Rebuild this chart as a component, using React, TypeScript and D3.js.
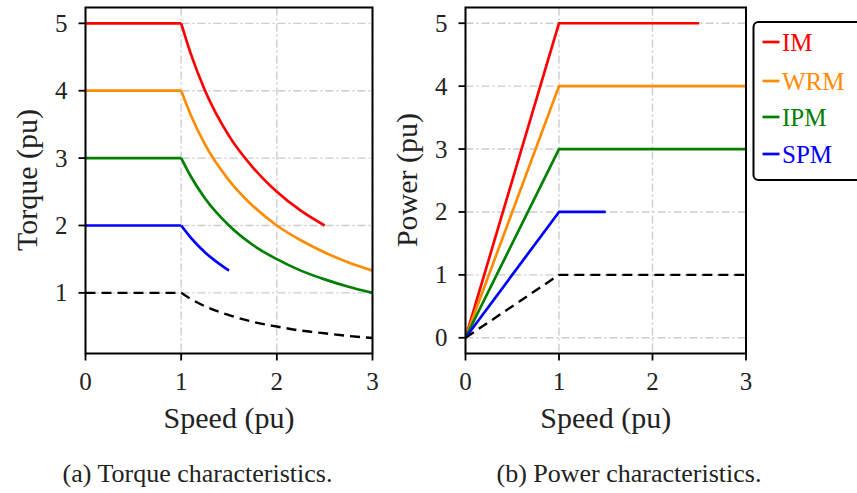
import React from "react";
import * as d3 from "d3";

// speed points (pu) used for the torque curves
const torqueSpeed = [0, 1, 1.1, 1.25, 1.5, 1.75, 2, 2.25, 2.5, 2.75, 3];
const torqueIM = [5, 5, 4.55, 4, 3.33, 2.86, 2.5, 2.22, 2];
const torqueWRM = [4, 4, 3.64, 3.2, 2.67, 2.29, 2, 1.78, 1.6, 1.45, 1.33];
const torqueIPM = [3, 3, 2.73, 2.4, 2, 1.71, 1.5, 1.33, 1.2, 1.09, 1];
const torqueSPM = [2, 2, 1.82, 1.6, 1.33];
const torqueRef = [1, 1, 0.91, 0.8, 0.67, 0.57, 0.5, 0.44, 0.4, 0.36, 0.33];

// speed points (pu) used for the power curves
const powerSpeed = [0, 1, 1.5, 2.5, 3];
const powerIM = [0, 5, 5, 5];
const powerWRM = [0, 4, 4, 4, 4];
const powerIPM = [0, 3, 3, 3, 3];
const powerSPM = [0, 2, 2];
const powerRef = [0, 1, 1, 1, 1];

const seriesNames = ["IM", "WRM", "IPM", "SPM"];
const seriesColors = ["#ff0000", "#ff8c00", "#008000", "#0000ff"];

const xTicks = [0, 1, 2, 3];
const torqueTicks = [1, 2, 3, 4, 5];
const powerTicks = [0, 1, 2, 3, 4, 5];

const font = "'Liberation Serif', 'Times New Roman', serif";

type PanelProps = {
  left: number;
  right: number;
  yDomain: [number, number];
  yTicks: number[];
  speeds: number[];
  series: number[][];
  ref0: number[];
  yLabel: string;
  caption: string;
  captionX: number;
  smooth: boolean;
};

const top = 7.5;
const bottom = 353.5;

function Panel(p: PanelProps) {
  const x = d3.scaleLinear().domain([0, 3]).range([p.left, p.right]);
  const y = d3.scaleLinear().domain(p.yDomain).range([bottom, top]);
  const straight = d3
    .line<[number, number]>()
    .x((d) => x(d[0]))
    .y((d) => y(d[1]));
  const curved = d3
    .line<[number, number]>()
    .x((d) => x(d[0]))
    .y((d) => y(d[1]))
    .curve(d3.curveMonotoneX);
  const pts = (vals: number[]) =>
    vals.map((v, i) => [p.speeds[i], v] as [number, number]);
  // flat / rising part up to base speed, then the field-weakening part
  const path = (vals: number[]) => {
    if (!p.smooth) return straight(pts(vals)) || "";
    const all = pts(vals);
    return (straight(all.slice(0, 2)) || "") + (curved(all.slice(1)) || "");
  };
  const cx = (p.left + p.right) / 2;
  const grid = "#cccccc";

  return (
    <g>
      <defs>
        <clipPath id={"clip" + p.left}>
          <rect x={p.left} y={top} width={p.right - p.left} height={bottom - top} />
        </clipPath>
      </defs>
      {/* grid */}
      {xTicks.map((t) => (
        <line key={"gx" + t} x1={x(t)} x2={x(t)} y1={top} y2={bottom}
          stroke={grid} strokeWidth={1.4} strokeDasharray="8,3,2,3" />
      ))}
      {p.yTicks.map((t) => (
        <line key={"gy" + t} x1={p.left} x2={p.right} y1={y(t)} y2={y(t)}
          stroke={grid} strokeWidth={1.4} strokeDasharray="8,3,2,3" />
      ))}
      <g clipPath={`url(#clip${p.left})`}>
        {p.series.map((s, i) => (
          <path key={i} d={path(s)} fill="none" strokeLinejoin="round"
            stroke={seriesColors[i]} strokeWidth={2.7} />
        ))}
        <path d={path(p.ref0)} fill="none" stroke="#000"
          strokeWidth={2.4} strokeDasharray="10,6" />
      </g>
      {/* frame */}
      <rect x={p.left} y={top} width={p.right - p.left} height={bottom - top}
        fill="none" stroke="#000" strokeWidth={2} />
      {/* ticks */}
      {xTicks.map((t) => (
        <g key={"tx" + t}>
          <line x1={x(t)} x2={x(t)} y1={bottom} y2={bottom + 7} stroke="#000" strokeWidth={1.8} />
          <text x={x(t)} y={390} textAnchor="middle" fontSize={25} fontFamily={font} fill="#222">
            {t}
          </text>
        </g>
      ))}
      {p.yTicks.map((t) => (
        <g key={"ty" + t}>
          <line x1={p.left - 7} x2={p.left} y1={y(t)} y2={y(t)} stroke="#000" strokeWidth={1.8} />
          <text x={p.left - 18} y={y(t) + 8.5} textAnchor="end" fontSize={25} fontFamily={font} fill="#222">
            {t}
          </text>
        </g>
      ))}
      <text x={cx} y={428} textAnchor="middle" fontSize={30} fontFamily={font} fill="#222">
        Speed (pu)
      </text>
      <text transform={`translate(${p.left - 49},180) rotate(-90)`} textAnchor="middle"
        fontSize={30} fontFamily={font} fill="#222">
        {p.yLabel}
      </text>
      <text x={p.captionX} y={482} textAnchor="middle" fontSize={26} fontFamily={font} fill="#222">
        {p.caption}
      </text>
    </g>
  );
}

export default function App() {
  return (
    <div style={{ position: "absolute", left: 0, top: 0 }}>
      <svg width={857} height={493} style={{ display: "block", background: "#fff" }}>
        <Panel left={85.5} right={372.5} yDomain={[0.1, 5.235]} yTicks={torqueTicks}
          speeds={torqueSpeed} series={[torqueIM, torqueWRM, torqueIPM, torqueSPM]}
          ref0={torqueRef} yLabel="Torque (pu)" caption="(a) Torque characteristics."
          captionX={197.5} smooth />
        <Panel left={465.5} right={746} yDomain={[-0.25, 5.25]} yTicks={powerTicks}
          speeds={powerSpeed} series={[powerIM, powerWRM, powerIPM, powerSPM]}
          ref0={powerRef} yLabel="Power (pu)" caption="(b) Power characteristics."
          captionX={629} smooth={false} />
        {/* legend */}
        <rect x={753.5} y={22} width={120} height={158} rx={5} fill="#fff" stroke="#000" strokeWidth={2} />
        {seriesNames.map((n, i) => {
          const ly = [42, 81, 117, 154][i];
          return (
            <g key={n}>
              <line x1={762.5} x2={779.5} y1={ly} y2={ly} stroke={seriesColors[i]} strokeWidth={2.7} />
              <text x={782} y={ly + 9} fontSize={25} fontFamily={font} fill={seriesColors[i]}>
                {n}
              </text>
            </g>
          );
        })}
      </svg>
    </div>
  );
}
